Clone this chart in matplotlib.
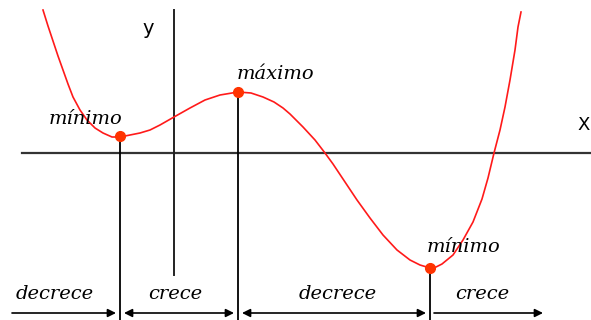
import matplotlib.pyplot as plt

# curve points (origin at the axes crossing, y up)
curve_x = [-131, -126, -121, -116, -111, -106, -101, -94, -87, -79, -71, -62, -54,
           -44, -34, -24, -14, 0, 16, 31, 46, 64, 77, 89, 100, 109,
           116, 129, 141, 151, 159, 171, 183, 196, 209, 223, 236, 246, 256,
           262, 268, 279, 289, 299, 308, 314, 320, 326, 331, 336, 341, 344, 347]
curve_y = [143, 127, 112, 97, 83, 69, 56, 43, 33, 25, 20, 16, 16,
           18, 20, 23, 28, 36, 45, 53, 58, 61, 60, 56, 51, 45,
           39, 26, 13, 0, -11, -29, -47, -65, -82, -97, -107, -112, -115,
           -114, -111, -102, -87, -69, -46, -25, 0, 23, 46, 73, 103, 126, 141]

# extremes
ext_x = [-54, 64, 256]
ext_y = [17, 61, -115]
ext_labels = ["mínimo", "máximo", "mínimo"]
ext_label_x = [-89, 101, 289]
ext_label_y = [34, 79, -94]

# intervals along the bottom
interval_edges = [-162, -54, 64, 256, 373]
interval_labels = ["decrece", "crece", "decrece", "crece"]
interval_label_x = [-119, 1, 164, 308]

fig = plt.figure(figsize=(5.91, 3.2), dpi=100)
ax = fig.add_axes([0, 0, 1, 1])
ax.set_xlim(-174, 417)
ax.set_ylim(-167, 153)
ax.axis("off")

# axes
ax.plot([-152, 417], [0, 0], color="#333333", lw=1.6)
ax.plot([0, 0], [143, -122], color="#222222", lw=1.4)
ax.text(-26, 124, "y", fontsize=14, ha="center", va="center", family="DejaVu Sans")
ax.text(410, 28, "X", fontsize=13, ha="center", va="center", family="DejaVu Sans")

# drop lines from extremes
for x, y in zip(ext_x, ext_y):
    ax.plot([x, x], [y, -167], color="black", lw=1.3)

ax.plot(curve_x, curve_y, color="#ff1a1a", lw=1.2, solid_joinstyle="round")
ax.plot(ext_x, ext_y, "o", color="#ff3300", ms=7, zorder=5)

for lx, ly, t in zip(ext_label_x, ext_label_y, ext_labels):
    ax.text(lx, ly, t, fontsize=14, style="italic", family="DejaVu Serif",
            ha="center", va="center")

# arrows
arrow_y = -160
for i, t in enumerate(interval_labels):
    a = interval_edges[i] + (0 if i == 0 else 4)
    b = interval_edges[i + 1] - 4
    style = "<|-|>" if 0 < i < 3 else "-|>"
    ax.annotate("", xy=(b, arrow_y), xytext=(a, arrow_y),
                arrowprops=dict(arrowstyle=style, color="black", lw=1.2,
                                mutation_scale=12, shrinkA=0, shrinkB=0))
    ax.text(interval_label_x[i], -141, t, fontsize=14, style="italic",
            family="DejaVu Serif", ha="center", va="center")

fig.savefig("out.png", dpi=100)
